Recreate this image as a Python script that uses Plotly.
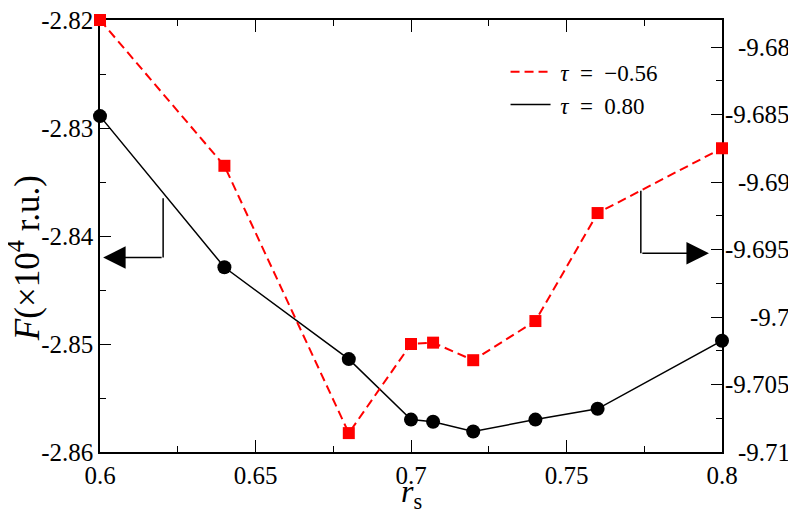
import plotly.graph_objects as go

# ---- data ----
rs = [0.6, 0.64, 0.68, 0.70, 0.7071, 0.72, 0.74, 0.76, 0.80]
F_tau_080 = [-2.8289, -2.8429, -2.8514, -2.8570, -2.8572, -2.8581, -2.8570, -2.8560, -2.8497]   # left axis
F_tau_m056 = [-9.6780, -9.6888, -9.7086, -9.7020, -9.7019, -9.7032, -9.7003, -9.6923, -9.6875]  # right axis

x_tickvals = [0.6, 0.65, 0.7, 0.75, 0.8]
x_ticktext = ["0.6", "0.65", "0.7", "0.75", "0.8"]
yl_tickvals = [-2.82, -2.83, -2.84, -2.85, -2.86]
yl_ticktext = ["-2.82", "-2.83", "-2.84", "-2.85", "-2.86"]
yr_tickvals = [-9.68, -9.685, -9.69, -9.695, -9.7, -9.705, -9.71]
yr_ticktext = ["-9.68", "-9.685", "-9.69", "-9.695", "-9.7", "-9.705", "-9.71"]

# arrow geometry (data coords: x, left-axis y)
arrow_left = dict(x_corner=0.6203, y_top=-2.8365, y_corner=-2.8420, x_tip=0.6010)
arrow_right = dict(x_corner=0.7739, y_top=-2.8358, y_corner=-2.8416, x_tip=0.7958)

FONT = "Liberation Serif, Times New Roman, serif"
RED = "#ff0000"

fig = go.Figure()

# legend line traces
fig.add_trace(go.Scatter(x=rs, y=F_tau_m056, yaxis="y2", mode="lines",
                         line=dict(color=RED, width=2, dash="9px,5px"),
                         name="\u2009<i>τ</i>\u2002=\u2002−0.56", showlegend=True))
fig.add_trace(go.Scatter(x=rs, y=F_tau_080, yaxis="y", mode="lines",
                         line=dict(color="black", width=1.5),
                         name="\u2009<i>τ</i>\u2002=\u20020.80", showlegend=True))
# markers
fig.add_trace(go.Scatter(x=rs, y=F_tau_m056, yaxis="y2", mode="markers",
                         marker=dict(symbol="square", size=12, color=RED),
                         showlegend=False, cliponaxis=False))
fig.add_trace(go.Scatter(x=rs, y=F_tau_080, yaxis="y", mode="markers",
                         marker=dict(symbol="circle", size=14, color="black"),
                         showlegend=False, cliponaxis=False))

axis_common = dict(showgrid=False, zeroline=False, showline=True, linecolor="black",
                   linewidth=1.5, ticks="inside", tickcolor="black", tickwidth=1.2,
                   tickfont=dict(family=FONT, size=25, color="black"), layer="below traces",
                   automargin=False, ticklabeloverflow="allow")

fig.update_layout(
    width=788, height=502,
    margin=dict(l=92, r=74, t=12, b=58),
    plot_bgcolor="white", paper_bgcolor="white",
    font=dict(family=FONT, color="black"),
    xaxis=dict(range=[0.6, 0.8], tickvals=x_tickvals, ticktext=x_ticktext, ticklen=12,
               mirror="ticks",
               minor=dict(dtick=0.025, tick0=0.6, ticks="inside", ticklen=6, tickcolor="black"),
               **axis_common),
    yaxis=dict(range=[-2.86, -2.82], tickvals=yl_tickvals, ticktext=yl_ticktext, ticklen=11,
               minor=dict(dtick=0.005, tick0=-2.86, ticks="inside", ticklen=6, tickcolor="black"),
               **axis_common),
    yaxis2=dict(range=[-9.71, -9.678], overlaying="y", side="right", tickvals=yr_tickvals,
                showticklabels=False, ticklen=11,
                minor=dict(dtick=0.0025, tick0=-9.71, ticks="inside", ticklen=6, tickcolor="black"),
                **axis_common),
    legend=dict(x=0.652, y=0.93, xanchor="left", yanchor="top", bgcolor="rgba(0,0,0,0)",
                font=dict(family=FONT, size=23), itemwidth=40, tracegroupgap=0),
    showlegend=True,
)

annotations = []
# right-axis tick labels (right-aligned)
for v, t in zip(yr_tickvals, yr_ticktext):
    annotations.append(dict(x=1.1125, xref="paper", y=v, yref="y2", text=t, showarrow=False,
                            xanchor="right", yanchor="middle",
                            font=dict(family=FONT, size=25, color="black")))
# axis titles
annotations.append(dict(x=-0.122, xref="paper", y=0.449, yref="paper",
                        text="<i>F</i>(×10<sup>4</sup> r.u.)", textangle=-90, showarrow=False,
                        xanchor="center", yanchor="middle",
                        font=dict(family=FONT, size=35, color="black")))
annotations.append(dict(x=0.5, xref="paper", y=-0.095, yref="paper",
                        text="<i>r</i><sub>s</sub>", showarrow=False,
                        xanchor="center", yanchor="middle",
                        font=dict(family=FONT, size=32, color="black")))
# arrows
for a in (arrow_left, arrow_right):
    fig.add_shape(type="line", xref="x", yref="y", x0=a["x_corner"], x1=a["x_corner"],
                  y0=a["y_top"], y1=a["y_corner"], line=dict(color="black", width=1.5))
    annotations.append(dict(x=a["x_tip"], y=a["y_corner"], xref="x", yref="y",
                            ax=a["x_corner"], ay=a["y_corner"], axref="x", ayref="y",
                            text="", showarrow=True, arrowhead=2, arrowsize=3,
                            arrowwidth=1.5, arrowcolor="black"))
fig.update_layout(annotations=annotations)

fig.write_html("out.html")
